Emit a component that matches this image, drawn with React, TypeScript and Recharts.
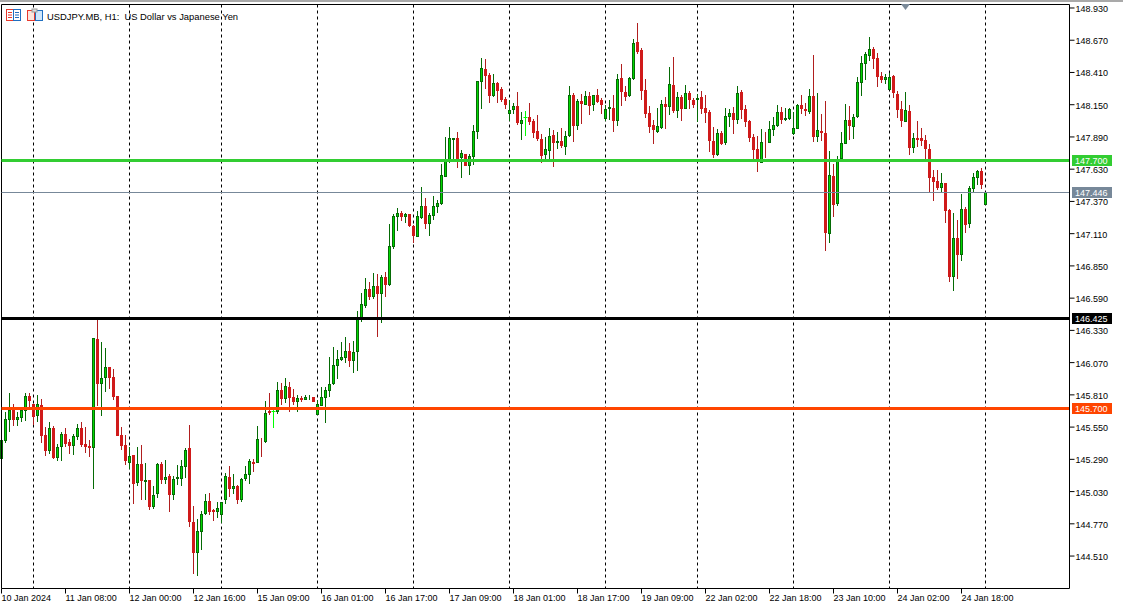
import React from 'react';
import { ComposedChart, Bar, XAxis, YAxis, CartesianGrid, ReferenceLine } from 'recharts';

// USDJPY H1 candles, one entry per hour bar
const opens = [
  145.294, 145.439, 145.606, 145.687, 145.609, 145.625, 145.681, 145.799, 145.735, 145.638,
  145.727, 145.485, 145.359, 145.541, 145.302, 145.391, 145.493, 145.429, 145.399, 145.472,
  145.541, 145.412, 145.396, 145.383, 146.259, 145.899, 145.947, 146.033, 145.953, 145.799,
  145.485, 145.404, 145.259, 145.324, 145.101, 145.251, 145.106, 145.122, 144.904, 145.009,
  145.251, 145.122, 145.154, 145.001, 145.130, 145.130, 145.227, 145.380, 144.783, 144.533,
  144.702, 144.848, 144.952, 144.880, 144.864, 144.842, 144.960, 145.146, 145.049, 145.073,
  144.960, 145.130, 145.162, 145.267, 145.259, 145.444, 145.428, 145.678, 145.678, 145.670,
  145.847, 145.775, 145.872, 145.791, 145.751, 145.783, 145.767, 145.783, 145.791, 145.646,
  145.718, 145.783, 145.840, 145.896, 146.041, 146.090, 146.106, 146.162, 146.082, 146.154,
  146.428, 146.525, 146.662, 146.598, 146.686, 146.622, 146.759, 146.694, 147.001, 147.243,
  147.275, 147.243, 147.267, 147.170, 147.081, 147.235, 147.331, 147.186, 147.251, 147.323,
  147.348, 147.568, 147.694, 147.864, 147.880, 147.719, 147.751, 147.654, 147.727, 147.928,
  148.331, 148.436, 148.388, 148.219, 148.323, 148.275, 148.194, 148.073, 148.106, 148.138,
  147.993, 148.047, 148.049, 148.017, 147.936, 147.872, 147.743, 147.775, 147.904, 147.840,
  147.856, 147.807, 147.896, 148.227, 147.981, 148.178, 148.146, 148.218, 148.146, 148.227,
  148.186, 148.033, 148.114, 148.122, 148.017, 148.364, 148.251, 148.218, 148.356, 148.654,
  148.589, 148.267, 148.081, 147.985, 147.928, 147.961, 148.154, 148.130, 148.307, 148.098,
  148.210, 148.114, 148.243, 148.186, 148.186, 148.210, 148.122, 148.089, 147.856, 147.743,
  147.920, 147.839, 148.049, 148.081, 148.025, 148.251, 148.114, 148.017, 147.888, 147.791,
  147.678, 147.848, 147.839, 147.944, 147.977, 148.089, 148.025, 148.033, 147.912, 147.952,
  148.146, 148.114, 148.089, 148.218, 147.888, 147.936, 147.920, 147.106, 147.573, 147.348,
  147.710, 147.831, 148.025, 147.969, 148.049, 148.323, 148.477, 148.541, 148.598, 148.525,
  148.380, 148.348, 148.267, 148.380, 148.235, 148.114, 148.009, 148.098, 147.799, 147.880,
  147.880, 147.864, 147.791, 147.565, 147.533, 147.477, 147.517, 147.299, 146.759, 147.073,
  146.936, 147.307, 147.186, 147.469, 147.557, 147.614, 147.339,
];
const highs = [
  145.445, 145.673, 145.821, 145.740, 145.673, 145.713, 145.829, 145.821, 145.735, 145.808,
  145.773, 145.547, 145.590, 145.558, 145.410, 145.509, 145.541, 145.458, 145.493, 145.571,
  145.590, 145.550, 145.445, 146.267, 146.430, 146.235, 146.187, 146.033, 146.017, 145.799,
  145.550, 145.485, 145.388, 145.324, 145.388, 145.404, 145.259, 145.122, 145.074, 145.259,
  145.267, 145.283, 145.170, 145.154, 145.243, 145.283, 145.380, 145.565, 144.912, 144.807,
  144.872, 145.009, 145.017, 144.888, 144.944, 144.944, 145.178, 145.235, 145.170, 145.081,
  145.138, 145.235, 145.291, 145.291, 145.557, 145.460, 145.759, 145.823, 145.686, 145.912,
  145.904, 145.944, 145.912, 145.856, 145.807, 145.799, 145.807, 145.807, 145.791, 145.767,
  145.872, 145.872, 146.114, 146.194, 146.170, 146.235, 146.275, 146.227, 146.243, 146.485,
  146.630, 146.751, 146.719, 146.791, 146.783, 146.775, 146.799, 147.186, 147.267, 147.315,
  147.291, 147.275, 147.267, 147.178, 147.291, 147.485, 147.396, 147.275, 147.412, 147.380,
  147.670, 147.888, 147.969, 147.880, 147.928, 147.783, 147.751, 147.751, 147.985, 148.340,
  148.525, 148.517, 148.404, 148.396, 148.331, 148.291, 148.211, 148.186, 148.162, 148.251,
  148.090, 148.098, 148.162, 148.033, 148.065, 147.912, 147.888, 147.961, 147.944, 147.928,
  147.961, 147.936, 148.299, 148.243, 148.194, 148.235, 148.259, 148.251, 148.227, 148.275,
  148.202, 148.146, 148.186, 148.227, 148.396, 148.477, 148.299, 148.372, 148.678, 148.807,
  148.606, 148.356, 148.138, 148.025, 148.122, 148.186, 148.210, 148.452, 148.533, 148.251,
  148.227, 148.307, 148.259, 148.202, 148.235, 148.259, 148.227, 148.106, 147.968, 147.952,
  147.936, 148.122, 148.114, 148.130, 148.299, 148.267, 148.146, 148.025, 147.912, 147.896,
  147.952, 147.928, 148.017, 148.049, 148.146, 148.130, 148.122, 148.122, 148.089, 148.154,
  148.227, 148.162, 148.275, 148.549, 148.243, 148.073, 148.178, 147.775, 147.670, 147.735,
  147.928, 148.154, 148.138, 148.073, 148.372, 148.541, 148.573, 148.694, 148.614, 148.565,
  148.412, 148.396, 148.404, 148.388, 148.259, 148.178, 148.251, 148.146, 147.920, 148.017,
  147.960, 147.904, 147.832, 147.622, 147.622, 147.598, 147.517, 147.307, 147.275, 147.219,
  147.428, 147.323, 147.493, 147.598, 147.622, 147.638, 147.444,
];
const lows = [
  145.294, 145.423, 145.512, 145.560, 145.560, 145.592, 145.601, 145.687, 145.566, 145.592,
  145.418, 145.318, 145.334, 145.289, 145.278, 145.278, 145.391, 145.334, 145.326, 145.445,
  145.391, 145.343, 145.308, 145.052, 145.722, 145.638, 145.832, 145.856, 145.767, 145.477,
  145.364, 145.243, 145.211, 144.929, 145.074, 144.961, 144.961, 144.880, 144.888, 144.977,
  145.090, 145.090, 144.864, 144.960, 145.081, 145.073, 145.138, 144.743, 144.364, 144.348,
  144.557, 144.840, 144.840, 144.791, 144.815, 144.775, 144.928, 144.985, 145.009, 144.928,
  144.944, 145.114, 145.089, 145.186, 145.259, 145.307, 145.420, 145.646, 145.541, 145.654,
  145.727, 145.743, 145.670, 145.727, 145.670, 145.751, 145.767, 145.767, 145.751, 145.646,
  145.718, 145.581, 145.791, 145.888, 145.936, 146.082, 146.065, 146.033, 145.985, 146.001,
  146.396, 146.509, 146.573, 146.581, 146.275, 146.388, 146.598, 146.686, 146.985, 147.130,
  147.210, 147.194, 147.162, 147.033, 147.081, 147.227, 147.146, 147.090, 147.219, 147.275,
  147.340, 147.568, 147.678, 147.702, 147.638, 147.557, 147.654, 147.581, 147.662, 147.872,
  148.114, 148.275, 148.162, 148.211, 148.162, 148.170, 148.114, 148.017, 148.073, 147.985,
  147.864, 147.896, 147.985, 147.880, 147.856, 147.678, 147.710, 147.702, 147.646, 147.791,
  147.799, 147.743, 147.888, 147.848, 147.944, 147.993, 148.146, 148.065, 148.098, 148.162,
  148.073, 148.017, 148.025, 147.928, 147.981, 148.138, 148.178, 148.210, 148.348, 148.557,
  148.186, 148.041, 147.920, 147.831, 147.920, 147.952, 147.952, 148.065, 148.081, 148.041,
  148.017, 148.114, 148.114, 148.122, 148.009, 148.073, 148.001, 147.767, 147.718, 147.735,
  147.823, 147.823, 147.968, 147.912, 147.993, 148.033, 147.968, 147.848, 147.702, 147.606,
  147.678, 147.718, 147.839, 147.896, 147.968, 147.993, 148.017, 148.025, 147.904, 147.952,
  148.073, 148.057, 148.073, 147.848, 147.848, 147.856, 146.969, 147.033, 147.243, 147.331,
  147.710, 147.831, 147.864, 147.872, 148.041, 148.219, 148.348, 148.501, 148.436, 148.291,
  148.323, 148.315, 148.267, 148.202, 148.041, 147.969, 148.009, 147.743, 147.759, 147.807,
  147.815, 147.702, 147.444, 147.372, 147.460, 147.436, 147.194, 146.719, 146.646, 146.743,
  146.888, 147.114, 147.154, 147.444, 147.501, 147.469, 147.339,
];
const closes = [
  145.445, 145.614, 145.687, 145.606, 145.630, 145.687, 145.799, 145.759, 145.633, 145.735,
  145.480, 145.356, 145.541, 145.300, 145.388, 145.493, 145.412, 145.399, 145.477, 145.541,
  145.404, 145.388, 145.383, 146.267, 145.899, 145.950, 146.033, 145.945, 145.791, 145.480,
  145.396, 145.275, 145.316, 145.090, 145.251, 145.114, 145.122, 144.904, 145.001, 145.251,
  145.122, 145.146, 145.001, 145.130, 145.146, 145.235, 145.364, 144.783, 144.533, 144.710,
  144.853, 144.952, 144.864, 144.869, 144.896, 144.944, 145.154, 145.049, 145.073, 144.960,
  145.130, 145.170, 145.275, 145.253, 145.452, 145.439, 145.662, 145.662, 145.678, 145.847,
  145.775, 145.880, 145.783, 145.751, 145.783, 145.770, 145.791, 145.791, 145.751, 145.735,
  145.791, 145.847, 145.896, 146.049, 146.098, 146.114, 146.162, 146.082, 146.154, 146.420,
  146.541, 146.662, 146.598, 146.686, 146.622, 146.759, 146.694, 147.009, 147.251, 147.275,
  147.243, 147.267, 147.170, 147.089, 147.251, 147.331, 147.186, 147.259, 147.331, 147.356,
  147.581, 147.694, 147.880, 147.880, 147.716, 147.759, 147.654, 147.735, 147.936, 148.340,
  148.444, 148.380, 148.219, 148.323, 148.259, 148.186, 148.146, 148.106, 148.138, 148.001,
  148.025, 148.047, 148.009, 147.920, 147.872, 147.735, 147.791, 147.896, 147.840, 147.856,
  147.815, 147.896, 148.227, 147.981, 148.178, 148.154, 148.218, 148.138, 148.227, 148.170,
  148.146, 148.114, 148.130, 148.017, 148.356, 148.251, 148.210, 148.364, 148.646, 148.573,
  148.259, 148.073, 147.969, 147.944, 147.977, 148.154, 148.130, 148.315, 148.098, 148.210,
  148.114, 148.243, 148.186, 148.146, 148.202, 148.114, 148.081, 147.856, 147.743, 147.920,
  147.831, 148.057, 148.081, 148.025, 148.243, 148.106, 148.009, 147.880, 147.783, 147.686,
  147.848, 147.839, 147.952, 147.985, 148.089, 148.025, 148.041, 148.114, 147.960, 148.146,
  148.114, 148.097, 148.218, 147.888, 147.944, 147.920, 147.114, 147.581, 147.339, 147.710,
  147.839, 148.025, 147.977, 148.049, 148.331, 148.485, 148.557, 148.598, 148.517, 148.372,
  148.348, 148.372, 148.372, 148.243, 148.106, 148.017, 148.106, 147.799, 147.880, 147.864,
  147.856, 147.791, 147.557, 147.525, 147.477, 147.517, 147.291, 146.759, 147.073, 146.936,
  147.307, 147.178, 147.477, 147.565, 147.614, 147.501, 147.444,
];

const priceTicks = [
  148.93, 148.67, 148.41, 148.15, 147.89, 147.63, 147.37, 147.11, 146.85, 146.59, 146.33,
  146.07, 145.81, 145.55, 145.29, 145.03, 144.77, 144.51,
];
const timeTicks = [0, 16, 32, 48, 64, 80, 96, 112, 128, 144, 160, 176, 192, 208, 224, 240];
const timeLabels = [
  '10 Jan 2024', '11 Jan 08:00', '12 Jan 00:00', '12 Jan 16:00', '15 Jan 09:00', '16 Jan 01:00',
  '16 Jan 17:00', '17 Jan 09:00', '18 Jan 01:00', '18 Jan 17:00', '19 Jan 09:00', '22 Jan 02:00',
  '22 Jan 18:00', '23 Jan 10:00', '24 Jan 02:00', '24 Jan 18:00',
];
const dayBreaks = [8, 32, 55, 79, 103, 127, 151, 174, 198, 222, 246];

const FONT = '"Liberation Sans", Arial, sans-serif';
const BULL_FILL = '#00d800';
const BULL_EDGE = '#056a05';
const BEAR = '#d01a1a';
const BEAR_WICK = '#b01e1e';
const DOJI = '#00ff00';

const data = opens.map((open, i) => ({ i, open, high: highs[i], low: lows[i], close: closes[i] }));

const Candle = (props: any) => {
  const { x, y, width, height, payload } = props;
  const { open, high, low, close } = payload;
  const perUnit = height / (high - low);
  const cx = Math.floor(x + width / 2) + 0.5; // keep the 1px wick on a pixel
  const bodyTop = Math.round(y + (high - Math.max(open, close)) * perUnit);
  const bodyBottom = Math.round(y + (high - Math.min(open, close)) * perUnit);
  const wickTop = Math.round(y);
  const wickBottom = Math.round(y + height);

  if (open === close) {
    return (
      <g stroke={DOJI} strokeWidth={1}>
        <line x1={cx} x2={cx} y1={wickTop} y2={wickBottom} />
        <line x1={cx - 2} x2={cx + 2} y1={bodyTop + 0.5} y2={bodyTop + 0.5} />
      </g>
    );
  }
  const up = close > open;
  const edge = up ? BULL_EDGE : BEAR;
  return (
    <g>
      <line x1={cx} x2={cx} y1={wickTop} y2={wickBottom} stroke={up ? BULL_EDGE : BEAR_WICK} strokeWidth={1} />
      <rect
        x={cx - 1}
        y={bodyTop + 0.5}
        width={2}
        height={Math.max(bodyBottom - bodyTop - 1, 0)}
        fill={up ? BULL_FILL : BEAR}
        stroke={edge}
        strokeWidth={1}
      />
    </g>
  );
};

const PriceTick = ({ x, y, payload }: any) => (
  <text x={x - 1} y={y + 4} fontSize={9} fontFamily={FONT} fill="#000">
    {payload.value.toFixed(3)}
  </text>
);

const TimeTick = ({ x, payload }: any) => (
  <text x={x} y={601} fontSize={9} fontFamily={FONT} fill="#000">
    {timeLabels[timeTicks.indexOf(payload.value)]}
  </text>
);

// horizontal price line snapped to the pixel grid, with its tag in the price scale
const priceLine = (value: number, color: string, width: number) => (props: any) => {
  const y = Math.floor(props.y1 + 0.1) + 0.5;
  return (
    <g>
      <line x1={props.x1} x2={props.x2} y1={y} y2={y} stroke={color} strokeWidth={width} />
      <rect x={1072} y={y - 5.5} width={40} height={11} fill={color} />
      <text x={1075} y={y + 3.5} fontSize={9} fontFamily={FONT} fill="#fff">
        {value.toFixed(3)}
      </text>
    </g>
  );
};

const priceLines = [
  { value: 147.7, color: '#32cd32', width: 3 },
  { value: 147.446, color: '#778899', width: 1 },
  { value: 146.425, color: '#000000', width: 3 },
  { value: 145.7, color: '#ff4500', width: 3 },
];

export default function App() {
  return (
    <div style={{ position: 'absolute', left: 0, top: 0, width: 1123, height: 606, background: '#fff', overflow: 'hidden' }}>
      <ComposedChart
        width={1123}
        height={606}
        data={data}
        margin={{ top: 4.5, right: 0, bottom: 0, left: 1.5 }}
      >
        <CartesianGrid
          horizontal={false}
          verticalValues={dayBreaks}
          stroke="#000"
          strokeDasharray="3 3"
        />
        <XAxis
          dataKey="i"
          type="number"
          domain={[0, 267]}
          ticks={timeTicks}
          interval={0}
          height={17.5}
          stroke="#000"
          tickSize={5}
          tick={<TimeTick />}
        />
        <YAxis
          orientation="right"
          type="number"
          domain={[144.2484, 148.9581]}
          ticks={priceTicks}
          interval={0}
          width={53.5}
          stroke="#000"
          tickSize={5}
          tick={<PriceTick />}
        />
        <ReferenceLine x={0} stroke="#000" />
        <ReferenceLine y={148.9581} stroke="#000" />
        <Bar
          dataKey={(d: any) => [d.low, d.high]}
          barSize={3}
          shape={<Candle />}
          isAnimationActive={false}
        />
        {priceLines.map(l => (
          <ReferenceLine
            key={l.value}
            y={l.value}
            shape={priceLine(l.value, l.color, l.width)}
          />
        ))}
      </ComposedChart>

      <div style={{ position: 'absolute', left: 0, top: 0, width: 1123, height: 2, background: '#a9a9a9' }} />
      <div style={{ position: 'absolute', left: 47, top: 11, fontSize: 9.4, lineHeight: '11px', fontFamily: FONT, color: '#000', whiteSpace: 'pre' }}>
        USDJPY.MB, H1:  US Dollar vs Japanese Yen
      </div>
      <svg style={{ position: 'absolute', left: 0, top: 0 }} width={1123} height={24}>
        <g fill="none" strokeWidth={1}>
          <rect x={6.5} y={9.5} width={7} height={11} fill="#fff" stroke="#e8392c" />
          <rect x={13.5} y={9.5} width={7} height={11} fill="#fff" stroke="#1f6fc0" />
          <path d="M8 12.5h4M8 15h4M8 17.5h4" stroke="#e8392c" />
          <path d="M15 12.5h4M15 15h4M15 17.5h4" stroke="#1f6fc0" />
          <rect x={27.5} y={10.5} width={7} height={10} fill="#fde4dc" stroke="#e8392c" />
          <rect x={35.5} y={10.5} width={7} height={10} fill="#cfe6fb" stroke="#1f6fc0" />
          <rect x={32} y={9} width={5} height={3} fill="#ddd" stroke="#999" />
        </g>
        <polygon points="901,4 910,4 905.5,10" fill="#7b8a99" />
      </svg>
    </div>
  );
}
